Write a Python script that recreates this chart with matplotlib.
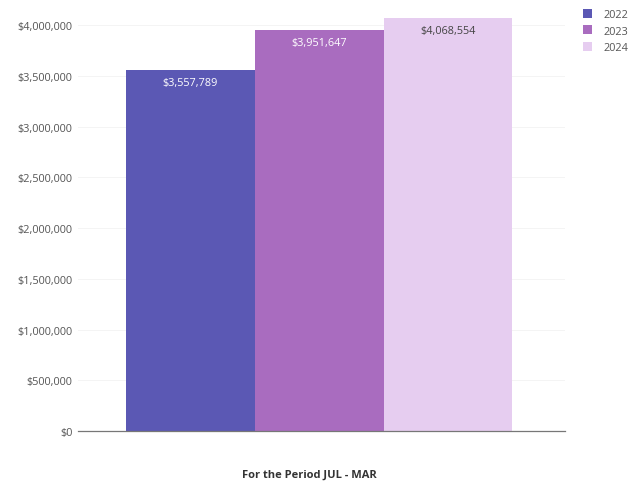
import matplotlib.pyplot as plt
from matplotlib.ticker import FuncFormatter
from matplotlib.patches import Patch

plt.rcParams['font.family'] = ['Open Sans', 'DejaVu Sans']

# Data
years = ['2022', '2023', '2024']
totals = [3557789, 3951647, 4068554]
colors = ['#5b58b4', '#a96cbf', '#e6cdf0']
label_colors = ['white', 'white', '#444444']

fig = plt.figure(figsize=(6.38, 4.89), dpi=100)
ax = fig.add_axes([0.122, 0.1166, 0.764, 0.863])

positions = list(range(len(years)))
ax.bar(positions, totals, width=1.0, color=colors, edgecolor='none')

for x, v, c in zip(positions, totals, label_colors):
    ax.text(x, v - 65000, f"${v:,.0f}", ha='center', va='top',
            color=c, fontsize=7.8)

ax.set_xlim(-0.873, 2.91)
ax.set_ylim(0, 4160000)
ax.set_yticks(range(0, 4000001, 500000))
ax.yaxis.set_major_formatter(FuncFormatter(lambda v, p: f"${v:,.0f}"))
ax.tick_params(axis='y', length=0, labelsize=7.8, labelcolor='#555555', pad=4)
ax.set_xticks([])

for s in ['top', 'right', 'left']:
    ax.spines[s].set_visible(False)
ax.spines['bottom'].set_color('#777777')
ax.spines['bottom'].set_linewidth(0.9)

ax.grid(axis='y', color='#f2f2f2', linewidth=0.6)
ax.set_axisbelow(True)

handles = [Patch(facecolor=c, label=y) for c, y in zip(colors, years)]
fig.legend(handles=handles, loc='upper left', bbox_to_anchor=(0.898, 1.0),
           frameon=False, fontsize=7.8, handlelength=0.9, handleheight=0.9,
           handletextpad=1.0, labelspacing=0.5, labelcolor='#555555')

fig.text(0.485, 0.028, "For the Period JUL - MAR", ha='center', va='center',
         fontsize=8, fontweight='bold', color='#333333')

fig.savefig('out.png', dpi=100)
